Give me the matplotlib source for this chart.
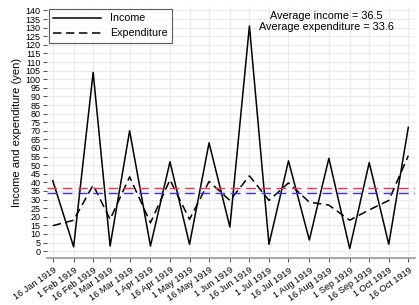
import pandas as pd
import matplotlib.pyplot as plt

dates = ["1919-01-16", "1919-02-01", "1919-02-16", "1919-03-01", "1919-03-16",
         "1919-04-01", "1919-04-16", "1919-05-01", "1919-05-16", "1919-06-01",
         "1919-06-16", "1919-07-01", "1919-07-16", "1919-08-01", "1919-08-16",
         "1919-09-01", "1919-09-16", "1919-10-01", "1919-10-16"]
tick_labels = ["16 Jan 1919", "1 Feb 1919", "16 Feb 1919", "1 Mar 1919", "16 Mar 1919",
               "1 Apr 1919", "16 Apr 1919", "1 May 1919", "16 May 1919", "1 Jun 1919",
               "16 Jun 1919", "1 Jul 1919", "16 Jul 1919", "1 Aug 1919", "16 Aug 1919",
               "1 Sep 1919", "16 Sep 1919", "1 Oct 1919", "16 Oct 1919"]
income = [41, 2.5, 104, 3, 70, 3, 52, 4, 63, 14, 131, 4, 52.5, 6.5, 54, 1.5, 51.5, 4, 72]
expenditure = [14.8, 18, 38.5, 18.5, 43.2, 16.5, 41.5, 18.5, 40.5, 29.5, 43.8, 29.5,
               39.7, 28.5, 26.8, 18, 24, 29.5, 55.5]
avg_income = 36.5
avg_expenditure = 33.6

x = pd.to_datetime(dates)

plt.rcParams['font.family'] = ['Liberation Sans', 'DejaVu Sans']
fig = plt.figure(figsize=(4.19, 3.05), dpi=100)
ax = fig.add_axes([0.112, 0.154, 0.878, 0.823])

ax.plot(x, income, color='black', lw=1.1, label='Income')
ax.plot(x, expenditure, color='black', lw=1.1, ls=(0, (5.5, 3)), label='Expenditure')
ax.axhline(avg_income, color='#ff3333', lw=1.0, ls=(0, (7, 4)))
ax.axhline(avg_expenditure, color='#3333ff', lw=1.0, ls=(0, (7, 4)))

ax.set_xlim(x[0] - pd.Timedelta(days=4.5), x[-1] + pd.Timedelta(days=5))
ax.set_ylim(-4, 142)
ax.set_yticks(range(0, 141, 5))
ax.set_xticks(x)
ax.set_xticklabels(tick_labels, rotation=35, ha='right', rotation_mode='anchor')
ax.tick_params(axis='both', labelsize=6.5, colors='#333333', length=3, width=0.6, pad=1.5)
ax.tick_params(axis='x', labelsize=6.6, labelcolor='black', pad=2.5)
ax.tick_params(axis='y', labelcolor='black')

ax.grid(True, color='#ebebeb', lw=0.9)
ax.set_axisbelow(True)
for s in ['top', 'right', 'left']:
    ax.spines[s].set_visible(False)
ax.spines['bottom'].set_color('#999999')
ax.spines['bottom'].set_linewidth(1.2)

ax.set_ylabel('Income and expenditure (yen)', fontsize=8, labelpad=3)

leg = ax.legend(loc='upper left', fontsize=7.7, frameon=True, fancybox=False,
                edgecolor='#333333', handlelength=4.5, borderaxespad=0.2,
                borderpad=0.4, labelspacing=0.45)
leg.get_frame().set_linewidth(0.8)

ax.text(0.76, 0.983, f"Average income = {avg_income}\nAverage expenditure = {avg_expenditure}",
        transform=ax.transAxes, ha='center', va='top', fontsize=7.8, linespacing=1.05)

fig.savefig('out.png', dpi=100)
